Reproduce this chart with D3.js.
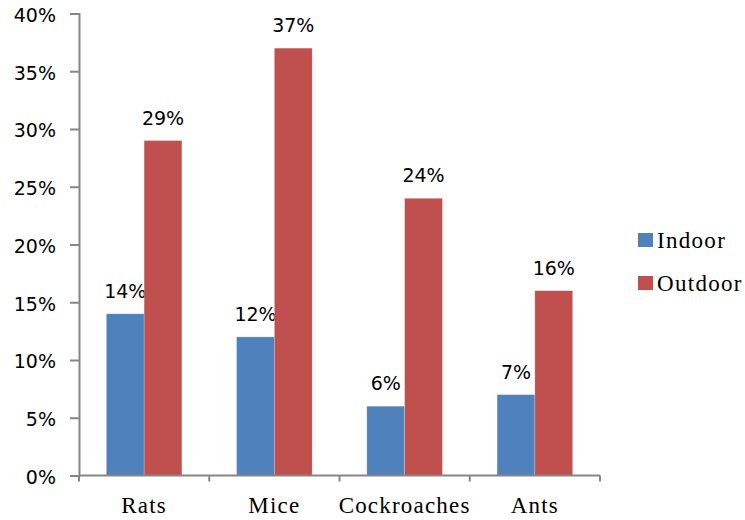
<!DOCTYPE html>
<html>
<head>
<meta charset="utf-8">
<script src="https://cdn.jsdelivr.net/npm/d3@7"></script>
<style>
  html, body { margin: 0; padding: 0; background: #fff; }
  svg { display: block; }
</style>
</head>
<body>
<svg id="chart" width="745" height="520"></svg>
<script>
const categories = ["Rats", "Mice", "Cockroaches", "Ants"];
const seriesNames = ["Indoor", "Outdoor"];
const indoorValues = [14, 12, 6, 7];
const outdoorValues = [29, 37, 24, 16];
const yTicks = [0, 5, 10, 15, 20, 25, 30, 35, 40];
const colors = ["#4F81BD", "#C0504D"];

(function () {
const seriesValues = [indoorValues, outdoorValues];
const svg = d3.select("#chart");

const mLeft = 79, mRight = 600, mTop = 13.5, mBottom = 475.5;

const x = d3.scaleBand().domain(categories).range([mLeft, mRight])
  .paddingInner(0.42).paddingOuter(0.21);
const xs = d3.scaleBand().domain(seriesNames).range([0, x.bandwidth()]);
const y = d3.scaleLinear().domain([0, 40]).range([mBottom, mTop]);
const xGrid = d3.scaleBand().domain(categories).range([mLeft, mRight]);

const axisColor = "#868686";

// bars
const groups = svg.append("g").selectAll("g").data(categories).join("g")
  .attr("transform", d => `translate(${x(d)},0)`);

seriesNames.forEach((s, si) => {
  groups.append("rect")
    .attr("x", xs(s))
    .attr("width", xs.bandwidth())
    .attr("y", (d, i) => y(seriesValues[si][i]))
    .attr("height", (d, i) => y(0) - y(seriesValues[si][i]))
    .attr("fill", colors[si])
    .attr("stroke", "rgba(255,255,255,0.35)")
    .attr("stroke-width", 0.6);
  groups.append("text")
    .attr("x", xs(s) + xs.bandwidth() / 2)
    .attr("y", (d, i) => y(seriesValues[si][i]) - 16)
    .attr("text-anchor", "middle")
    .attr("font-family", "DejaVu Sans, sans-serif")
    .attr("font-size", 19)
    .attr("fill", "#000")
    .text((d, i) => seriesValues[si][i] + "%");
});

// y axis
const yAxis = d3.axisLeft(y).tickValues(yTicks).tickFormat(d => d + "%").tickSize(9).tickPadding(14);
const yg = svg.append("g").attr("transform", `translate(${mLeft},0)`).call(yAxis);
yg.select(".domain").attr("stroke", axisColor).attr("stroke-width", 2);
yg.selectAll(".tick line").attr("stroke", axisColor).attr("stroke-width", 2);
yg.selectAll(".tick text").attr("font-family", "DejaVu Sans, sans-serif")
  .attr("font-size", 19).attr("dy", "0.42em").attr("fill", "#000");

// x axis
const xAxisG = svg.append("g").attr("transform", `translate(0,${mBottom})`);
xAxisG.append("line").attr("x1", mLeft).attr("x2", mRight).attr("y1", 0).attr("y2", 0)
  .attr("stroke", axisColor).attr("stroke-width", 2);
const bounds = categories.map(c => xGrid(c)).concat([mRight]);
xAxisG.selectAll(".xt").data(bounds).join("line")
  .attr("x1", d => d).attr("x2", d => d).attr("y1", 0).attr("y2", 6)
  .attr("stroke", axisColor).attr("stroke-width", 2);
xAxisG.selectAll(".xl").data(categories).join("text")
  .attr("x", d => xGrid(d) + xGrid.bandwidth() / 2)
  .attr("y", 37)
  .attr("text-anchor", "middle")
  .attr("font-family", "Liberation Serif, Times New Roman, serif")
  .attr("font-size", 23)
  .attr("letter-spacing", 1.2)
  .attr("fill", "#000")
  .text(d => d);

// legend
const legend = svg.append("g").attr("transform", "translate(638,233)");
seriesNames.forEach((s, i) => {
  const g = legend.append("g").attr("transform", `translate(0,${i * 43})`);
  g.append("rect").attr("width", 15).attr("height", 14).attr("fill", colors[i]);
  g.append("text").attr("x", 19).attr("y", 15)
    .attr("font-family", "Liberation Serif, Times New Roman, serif")
    .attr("font-size", 23).attr("letter-spacing", 1.3).attr("fill", "#000").text(s);
});
})();
</script>
</body>
</html>
